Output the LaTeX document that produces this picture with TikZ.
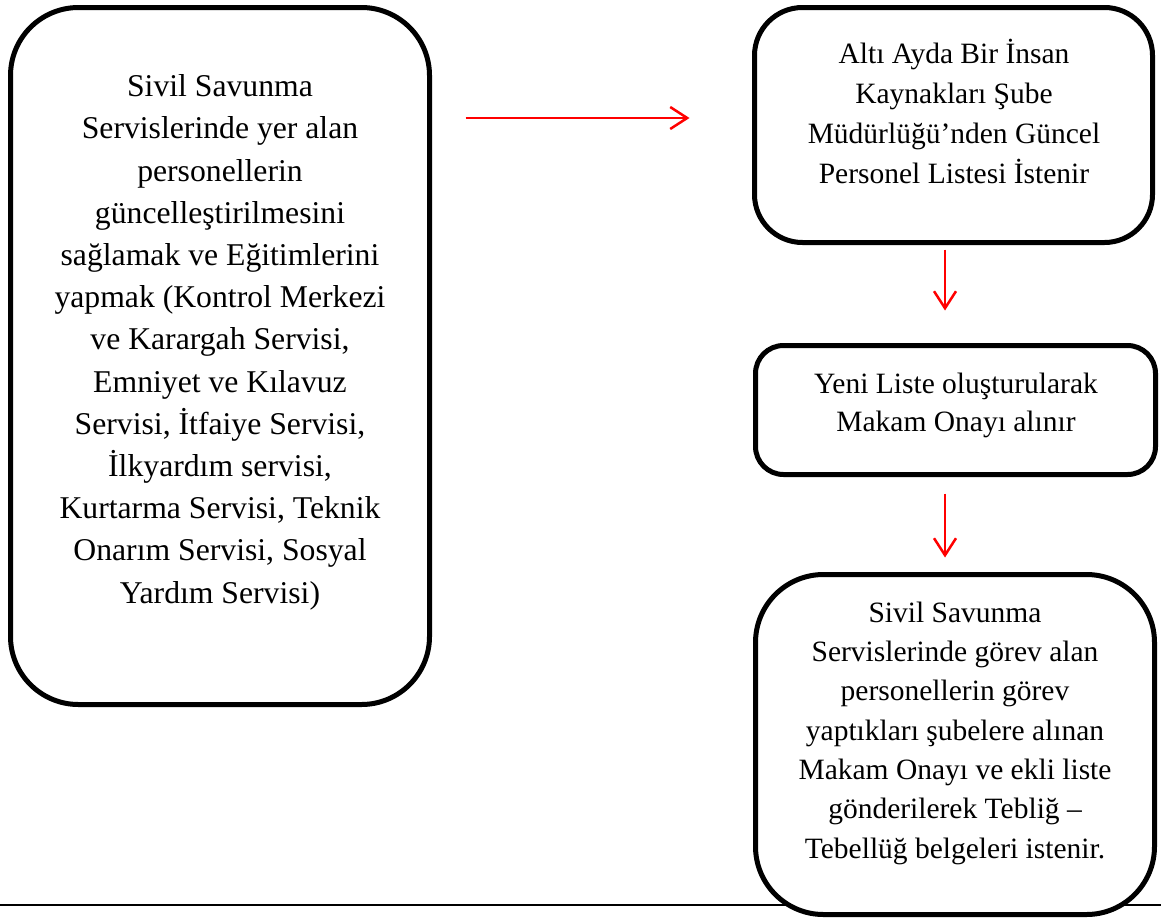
\documentclass[tikz,border=0pt]{standalone}
\usepackage{fontspec}
\setmainfont{Liberation Serif}
\usetikzlibrary{arrows.meta}

\tikzset{
  stepbox/.style={draw=black, line width=5pt, fill=white, inner sep=0pt},
  % anchor=base sits on the baseline of the last line
  boxtext/.style={align=center, inner sep=0pt, anchor=base,
    font=\fontsize{29.5}{40}\selectfont},
  flow/.style={draw=red, line width=2.5pt,
    -{Straight Barb[length=17pt, width=22pt, line width=2.5pt]}},
  rule/.style={draw=black, line width=2pt}
}

\begin{document}
\begin{tikzpicture}[x=1pt, y=-1pt]
\useasboundingbox (0,0) rectangle (1161,918);

% baseline rule across the page, partly hidden by the last box
\draw[rule] (0,905) -- (1161,905);

% boxes
\node[stepbox, rounded corners=68pt, minimum width=419pt, minimum height=697pt]
  (L) at (220,356) {};
\node[stepbox, rounded corners=48pt, minimum width=398pt, minimum height=235pt]
  (B1) at (953.5,125) {};
\node[stepbox, rounded corners=28pt, minimum width=400pt, minimum height=129pt]
  (B2) at (955.5,410) {};
\node[stepbox, rounded corners=68pt, minimum width=399pt, minimum height=340pt]
  (B3) at (955,744.5) {};

% texts
\node[boxtext, font=\fontsize{31.7}{42.2}\selectfont] (tL) at (220,603)
  {Sivil Savunma\\ Servislerinde yer alan\\ personellerin\\
  güncelleştirilmesini\\ sağlamak ve Eğitimlerini\\ yapmak (Kontrol Merkezi\\
  ve Karargah Servisi,\\ Emniyet ve Kılavuz\\ Servisi, İtfaiye Servisi,\\
  İlkyardım servisi,\\ Kurtarma Servisi, Teknik\\ Onarım Servisi, Sosyal\\
  Yardım Servisi)};
\node[boxtext] (t1) at (954,183)
  {Altı Ayda Bir İnsan\\ Kaynakları Şube\\ Müdürlüğü’nden Güncel\\ Personel Listesi İstenir};
\node[boxtext, font=\fontsize{29.5}{38}\selectfont] (t2) at (956,431)
  {Yeni Liste oluşturularak\\ Makam Onayı alınır};
\node[boxtext, font=\fontsize{29.5}{39.3}\selectfont] (t3) at (955,858)
  {Sivil Savunma\\ Servislerinde görev alan\\ personellerin görev\\
  yaptıkları şubelere alınan\\ Makam Onayı ve ekli liste\\
  gönderilerek Tebliğ –\\ Tebellüğ belgeleri istenir.};

% connectors
\coordinate (a1) at ([yshift=7pt]B1.west);
\draw[flow, shorten <=33.5pt, shorten >=62.5pt] (L.east |- a1) -- (a1);
\draw[flow, shorten <=4.5pt, shorten >=32.5pt] ([xshift=-8.5pt]B1.south) -- ([xshift=-10.5pt]B2.north);
\draw[flow, shorten <=16.5pt, shorten >=14.5pt] ([xshift=-10.5pt]B2.south) -- ([xshift=-10pt]B3.north);
\end{tikzpicture}
\end{document}
